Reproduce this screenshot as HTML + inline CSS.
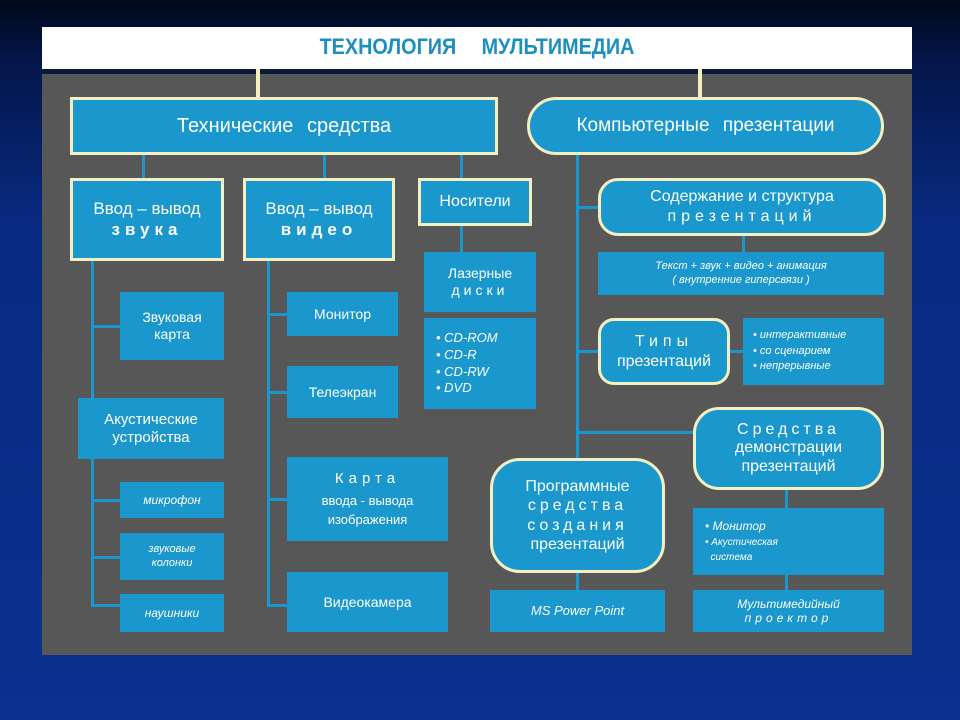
<!DOCTYPE html>
<html><head><meta charset="utf-8"><style>
*{margin:0;padding:0;box-sizing:border-box}
body{width:960px;height:720px;overflow:hidden;position:relative;font-family:"Liberation Sans","DejaVu Sans",sans-serif;
background:linear-gradient(180deg,#00081a 0px,#04164a 60px,#082a80 220px,#0a3190 720px);}
.a{position:absolute}
.b{position:absolute;background:#1a97cc;color:#fff;display:flex;align-items:center;justify-content:center;text-align:center;line-height:1.2}
.c{border:3px solid #f3efc0}
.l{position:absolute;background:#1a97cc}
.y{position:absolute;background:#f3efc0}
.i{font-style:italic}
</style></head><body>
<div class="a" style="left:42px;top:27px;width:870px;height:42px;background:#fff"></div>
<div class="a" style="left:42px;top:34px;width:870px;text-align:center;color:#1a8fc0;font-size:22px;font-weight:bold;word-spacing:22px;transform:scaleX(0.9);">ТЕХНОЛОГИЯ МУЛЬТИМЕДИА</div>
<div class="a" style="left:42px;top:69px;width:870px;height:5px;background:#0c1a3a"></div>
<div class="a" style="left:42px;top:74px;width:870px;height:581px;background:#575757"></div>

<div class="y" style="left:256px;top:69px;width:4px;height:30px"></div>
<div class="y" style="left:698px;top:69px;width:4px;height:30px"></div>

<div class="l" style="left:142px;top:155px;width:3px;height:25px"></div>
<div class="l" style="left:323px;top:155px;width:3px;height:25px"></div>
<div class="l" style="left:460px;top:155px;width:3px;height:25px"></div>
<div class="l" style="left:460px;top:226px;width:3px;height:28px"></div>
<div class="l" style="left:91px;top:261px;width:3px;height:345px"></div>
<div class="l" style="left:91px;top:325px;width:30px;height:3px"></div>
<div class="l" style="left:91px;top:499px;width:30px;height:3px"></div>
<div class="l" style="left:91px;top:556px;width:30px;height:3px"></div>
<div class="l" style="left:91px;top:604px;width:30px;height:3px"></div>
<div class="l" style="left:267px;top:261px;width:3px;height:345px"></div>
<div class="l" style="left:267px;top:313px;width:21px;height:3px"></div>
<div class="l" style="left:267px;top:391px;width:21px;height:3px"></div>
<div class="l" style="left:267px;top:498px;width:21px;height:3px"></div>
<div class="l" style="left:267px;top:604px;width:21px;height:3px"></div>
<div class="l" style="left:576px;top:155px;width:3px;height:305px"></div>
<div class="l" style="left:576px;top:206px;width:24px;height:3px"></div>
<div class="l" style="left:576px;top:350px;width:24px;height:3px"></div>
<div class="l" style="left:576px;top:431px;width:120px;height:3px"></div>
<div class="l" style="left:742px;top:236px;width:3px;height:18px"></div>
<div class="l" style="left:728px;top:350px;width:16px;height:3px"></div>
<div class="l" style="left:576px;top:572px;width:3px;height:20px"></div>
<div class="l" style="left:785px;top:490px;width:3px;height:20px"></div>
<div class="l" style="left:785px;top:574px;width:3px;height:18px"></div>

<div class="b c" style="left:70px;top:97px;width:428px;height:58px;font-size:20px;word-spacing:8px"><div>Технические средства</div></div>
<div class="b c" style="left:70px;top:178px;width:154px;height:83px;font-size:17px"><div>Ввод – вывод<br><span style="letter-spacing:5px;font-weight:bold">звука</span></div></div>
<div class="b c" style="left:243px;top:178px;width:152px;height:83px;font-size:17px"><div>Ввод – вывод<br><span style="letter-spacing:5px;font-weight:bold">видео</span></div></div>
<div class="b c" style="left:418px;top:178px;width:114px;height:48px;font-size:16px"><div>Носители</div></div>
<div class="b" style="left:424px;top:252px;width:112px;height:60px;font-size:14px"><div>Лазерные<br><span style="letter-spacing:4px">диски</span></div></div>
<div class="b i" style="left:424px;top:318px;width:112px;height:91px;font-size:13px;text-align:left;justify-content:flex-start;padding-left:12px;line-height:1.3"><div>• CD-ROM<br>• CD-R<br>• CD-RW<br>• DVD</div></div>
<div class="b" style="left:120px;top:292px;width:104px;height:68px;font-size:14px"><div>Звуковая<br>карта</div></div>
<div class="b" style="left:78px;top:398px;width:146px;height:61px;font-size:15px"><div>Акустические<br>устройства</div></div>
<div class="b i" style="left:120px;top:482px;width:104px;height:36px;font-size:12px"><div>микрофон</div></div>
<div class="b i" style="left:120px;top:533px;width:104px;height:47px;font-size:11px"><div>звуковые<br>колонки</div></div>
<div class="b i" style="left:120px;top:594px;width:104px;height:38px;font-size:12px"><div>наушники</div></div>
<div class="b" style="left:287px;top:292px;width:111px;height:44px;font-size:14px"><div>Монитор</div></div>
<div class="b" style="left:287px;top:366px;width:111px;height:52px;font-size:14px"><div>Телеэкран</div></div>
<div class="b" style="left:287px;top:457px;width:161px;height:84px;font-size:13px;line-height:1.5"><div><span style="letter-spacing:5px;font-size:15px">Карта</span><br>ввода - вывода<br>изображения</div></div>
<div class="b" style="left:287px;top:572px;width:161px;height:60px;font-size:14px"><div>Видеокамера</div></div>

<div class="b c" style="left:527px;top:97px;width:357px;height:58px;border-radius:29px;font-size:19px;word-spacing:8px"><div>Компьютерные презентации</div></div>
<div class="b c" style="left:598px;top:178px;width:288px;height:58px;border-radius:20px;font-size:16px;line-height:1.25"><div>Содержание и структура<br><span style="letter-spacing:5px">презентаций</span></div></div>
<div class="b i" style="left:598px;top:252px;width:286px;height:43px;font-size:11px"><div>Текст + звук + видео + анимация<br>( внутренние гиперсвязи )</div></div>
<div class="b c" style="left:598px;top:318px;width:132px;height:67px;border-radius:16px;font-size:16px"><div><span style="letter-spacing:5px">Типы</span><br>презентаций</div></div>
<div class="b i" style="left:743px;top:318px;width:141px;height:67px;font-size:11px;text-align:left;justify-content:flex-start;padding-left:10px;line-height:1.4"><div>• интерактивные<br>• со сценарием<br>• непрерывные</div></div>
<div class="b c" style="left:693px;top:407px;width:191px;height:83px;border-radius:26px;font-size:16px;line-height:1.15"><div><span style="letter-spacing:4px">Средства</span><br>демонстрации<br>презентаций</div></div>
<div class="b c" style="left:490px;top:458px;width:175px;height:115px;border-radius:30px;font-size:16px;line-height:1.2"><div>Программные<br><span style="letter-spacing:4px">средства<br>создания</span><br>презентаций</div></div>
<div class="b i" style="left:490px;top:590px;width:175px;height:42px;font-size:13px"><div>MS Power Point</div></div>
<div class="b i" style="left:693px;top:508px;width:191px;height:67px;font-size:12px;text-align:left;justify-content:flex-start;padding-left:12px;line-height:1.2"><div>• Монитор<br><span style="font-size:10px">• Акустическая<br>&nbsp;&nbsp;система</span></div></div>
<div class="b i" style="left:693px;top:590px;width:191px;height:42px;font-size:12px"><div>Мультимедийный<br><span style="letter-spacing:4px">проектор</span></div></div>
</body></html>
